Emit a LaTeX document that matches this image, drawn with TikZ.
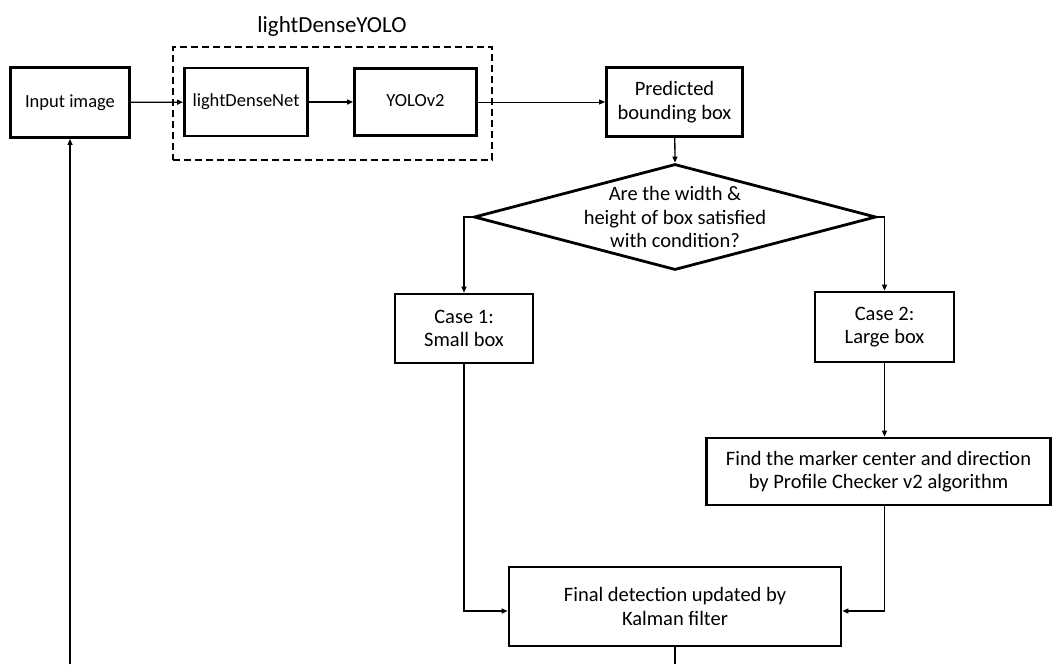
\documentclass[tikz,border=0pt]{standalone}
\usepackage{fontspec}
\setmainfont{Carlito}
\usetikzlibrary{shapes.geometric,arrows.meta}
\begin{document}
\begin{tikzpicture}[x=1pt,y=-1pt,
  txt/.style={font=\fontsize{20.5}{23.5}\selectfont},
  smalltxt/.style={font=\fontsize{18.5}{22}\selectfont, text height=13pt, text depth=4pt},
  procbox/.style={draw, line width=2.8pt, align=center, inner sep=2pt, txt},
  decision/.style={draw, diamond, line width=2.8pt, inner sep=0pt},
  flow/.style={line width=1.3pt, -{Triangle[length=6pt,width=5pt]}},
  thinflow/.style={line width=0.9pt, -{Triangle[length=6pt,width=5pt]}},
  group/.style={draw, line width=1.6pt, dash pattern=on 7pt off 4pt},
]
\useasboundingbox (0,0) rectangle (1054,664);

% detector block
\node[group, minimum width=319pt, minimum height=113pt] (grp) at (332.5,103.5) {};
\node[font=\fontsize{23}{28}\selectfont] (title) at (332,26) {lightDenseYOLO};

% process boxes
\node[procbox, smalltxt, minimum width=119pt, minimum height=70pt] (input) at (70,102.5) {Input image};
\node[procbox, smalltxt, minimum width=123pt, minimum height=68pt] (ldn) at (246,102) {lightDenseNet};
\node[procbox, smalltxt, minimum width=122pt, minimum height=67pt] (yolo) at (415.5,102) {YOLOv2};
\node[procbox, minimum width=136pt, minimum height=69pt] (pred) at (674.5,102) {Predicted\\bounding box};

% size test
\node[decision, minimum width=402pt, minimum height=106pt] (cond) at (675,217) {};
\node[txt, align=center, inner sep=0pt] (condtext) at (cond.center) {Are the width \&\\height of box satisfied\\with condition?};

\node[procbox, minimum width=138pt, minimum height=69pt] (case1) at (464,328.5) {Case 1:\\Small box};
\node[procbox, minimum width=139pt, minimum height=70pt] (case2) at (884.5,327) {Case 2:\\Large box};
\node[procbox, minimum width=344pt, minimum height=67pt] (find) at (878.5,471.5) {Find the marker center and direction\\by Profile Checker v2 algorithm};
\node[procbox, minimum width=332pt, minimum height=79pt] (final) at (675,606.5) {Final detection updated by\\Kalman filter};

% loop back to the input
\coordinate (loopout) at (675,664);
\coordinate (loopin) at (70,664);

% connectors
\draw[flow] (input) -- (ldn);
\draw[flow] (ldn) -- (yolo);
\draw[thinflow] (yolo) -- (pred);
\draw[flow] (pred) -- (cond.north);
\draw[flow] (cond.east) -| (case2.north);
\draw[flow] (cond.west) -| (case1.north);
\draw[flow] (case2.south) -- (case2.south |- find.north);
\draw[flow] (case1.south) |- ([yshift=-4.5pt]final.west);
\draw[flow] (case2.south |- find.south) |- ([yshift=-4.5pt]final.east);
\draw[line width=1.3pt] (final.south) -- (loopout);
\draw[flow] (loopin) -- (input.south);
\end{tikzpicture}
\end{document}
